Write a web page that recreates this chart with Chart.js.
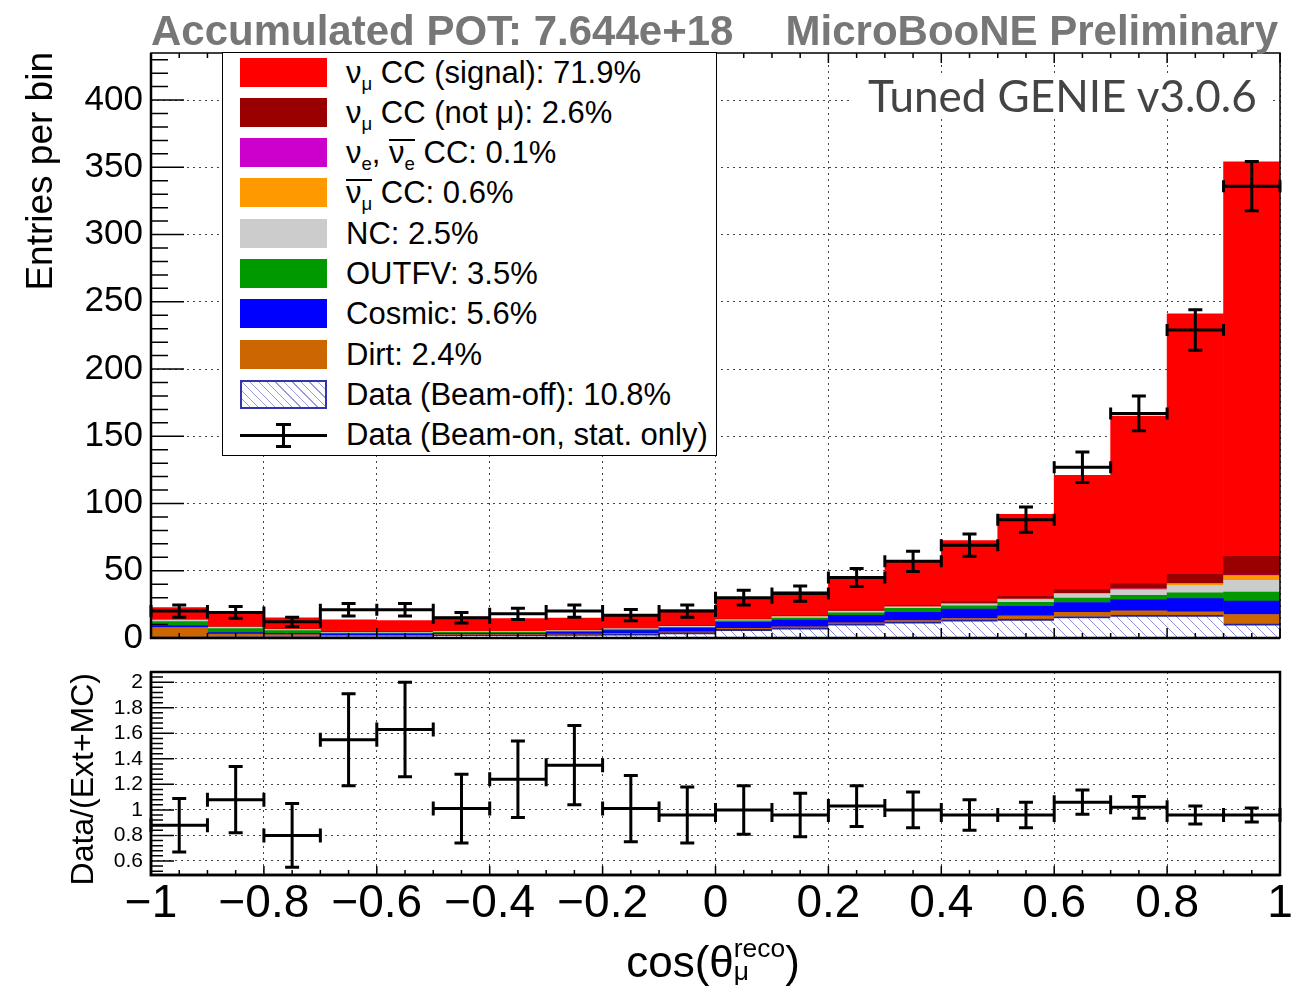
<!DOCTYPE html>
<html>
<head>
<meta charset="utf-8">
<script src="https://cdn.jsdelivr.net/npm/chart.js@4.4.1/dist/chart.umd.min.js"></script>
<style>
  body { margin:0; background:#fff; width:1310px; height:988px; position:relative; overflow:hidden;
         font-family:"Liberation Sans", Arial, sans-serif; color:#000; }
  canvas { position:absolute; left:0; }
  #topChart { top:0; }
  #ratioChart { top:651px; }
  .hdr { position:absolute; top:10px; font-weight:bold; font-size:42px; line-height:42px; color:#777; white-space:nowrap; }
  .ytitle { position:absolute; width:300px; text-align:right; white-space:nowrap; transform:rotate(-90deg); }
  #legend { position:absolute; left:222px; top:52px; width:495px; height:404px; box-sizing:border-box;
            border:1.5px solid #000; background:#fff; }
  .row { position:absolute; left:0; height:40px; width:100%; }
  .sw { position:absolute; left:17px; top:5px; width:87px; height:29px; }
  .txt { position:absolute; left:123px; top:0; line-height:40px; font-size:31px; white-space:nowrap; }
  sub { font-size:0.6em; vertical-align:-0.35em; line-height:0; }
  .ov { display:inline-block; border-top:2px solid #000; line-height:0.8em; }
  #genie { position:absolute; left:850px; top:73px; padding:0 16px 0 18px; background:#fff;
           font-family:Lato, sans-serif; font-size:44px; line-height:44px; color:#444; white-space:nowrap; }
  #xtitle { position:absolute; left:513px; top:937px; width:400px; text-align:center; font-size:44px; line-height:44px; white-space:nowrap; }
  .ss { display:inline-block; vertical-align:-3px; font-size:0.6em; line-height:23px; text-align:left; }
  .ss span { display:block; }
</style>
</head>
<body>
<canvas id="topChart" width="1310" height="667"></canvas>
<canvas id="ratioChart" width="1310" height="337"></canvas>

<div class="hdr" style="left:151px">Accumulated POT: 7.644e+18</div>
<div class="hdr" style="right:32px">MicroBooNE Preliminary</div>

<div class="ytitle" style="left:-110px; top:182px; height:40px; line-height:40px; font-size:37px;">Entries per bin</div>
<div class="ytitle" style="left:-68px; top:806px; height:34px; line-height:34px; font-size:32px;">Data/(Ext+MC)</div>

<div id="genie">Tuned GENIE v3.0.6</div>

<div id="legend">
  <div class="row" style="top:0px"><div class="sw" style="background:#ff0000"></div><div class="txt">ν<sub>μ</sub> CC (signal): 71.9%</div></div>
  <div class="row" style="top:40px"><div class="sw" style="background:#990000"></div><div class="txt">ν<sub>μ</sub> CC (not μ): 2.6%</div></div>
  <div class="row" style="top:80px"><div class="sw" style="background:#cc00cc"></div><div class="txt">ν<sub>e</sub>, <span class="ov">ν<sub>e</sub></span> CC: 0.1%</div></div>
  <div class="row" style="top:120px"><div class="sw" style="background:#ff9900"></div><div class="txt"><span class="ov">ν<sub>μ</sub></span> CC: 0.6%</div></div>
  <div class="row" style="top:161px"><div class="sw" style="background:#cccccc"></div><div class="txt">NC: 2.5%</div></div>
  <div class="row" style="top:201px"><div class="sw" style="background:#009900"></div><div class="txt">OUTFV: 3.5%</div></div>
  <div class="row" style="top:241px"><div class="sw" style="background:#0000ff"></div><div class="txt">Cosmic: 5.6%</div></div>
  <div class="row" style="top:282px"><div class="sw" style="background:#cc6600"></div><div class="txt">Dirt: 2.4%</div></div>
  <div class="row" style="top:322px"><div class="sw" style="box-sizing:border-box; border:2px solid #3333aa;
       background:repeating-linear-gradient(45deg, #fff 0px, #fff 5px, #9999dd 5px, #9999dd 6px)"></div><div class="txt">Data (Beam-off): 10.8%</div></div>
  <div class="row" style="top:362px">
    <div style="position:absolute; left:17px; top:19px; width:87px; height:3px; background:#000"></div>
    <div style="position:absolute; left:59px; top:9px; width:3px; height:23px; background:#000"></div>
    <div style="position:absolute; left:53px; top:8px; width:15px; height:3px; background:#000"></div>
    <div style="position:absolute; left:53px; top:30px; width:15px; height:3px; background:#000"></div>
    <div class="txt">Data (Beam-on, stat. only)</div>
  </div>
</div>

<div id="xtitle">cos(θ<span class="ss"><span>reco</span><span>μ</span></span>)</div>

<script>
// bins in reconstructed cos(theta_mu)
const binEdges = [-1.0, -0.9, -0.8, -0.7, -0.6, -0.5, -0.4, -0.3, -0.2, -0.1, 0.0,
                  0.1, 0.2, 0.3, 0.4, 0.5, 0.6, 0.7, 0.8, 0.9, 1.0];

// stacked prediction, bottom to top
const beamOff   = [0.8, 1.0, 1.0, 1.5, 1.5, 2.0, 2.0, 2.5, 3.0, 4.0, 6.5, 7.5, 10.5, 12.0, 13.5, 14.0, 16.0, 17.0, 17.0, 10.5];
const dirt      = [7.0, 2.0, 1.5, 0.5, 0.5, 0.5, 0.5, 0.5, 0.5, 0.6, 0.7, 0.8, 0.8, 1.0, 1.0, 2.5, 3.0, 3.2, 2.5, 7.0];
const cosmic    = [1.5, 1.0, 1.0, 1.0, 1.0, 1.0, 1.0, 1.2, 2.0, 2.5, 4.5, 5.0, 5.5, 6.0, 7.0, 7.0, 7.4, 8.4, 9.8, 10.0];
const outFV     = [3.0, 3.0, 2.0, 0.7, 0.7, 0.7, 0.7, 0.7, 0.7, 0.8, 1.0, 1.5, 2.0, 3.0, 2.5, 3.0, 3.2, 3.1, 4.2, 6.7];
const nc        = [1.0, 1.0, 0.7, 0.5, 0.5, 0.5, 0.5, 0.5, 0.6, 0.7, 0.8, 1.0, 1.0, 1.0, 1.2, 2.0, 3.0, 3.8, 5.7, 8.6];
const numubarCC = [0.1, 0.1, 0.1, 0.1, 0.1, 0.1, 0.1, 0.1, 0.1, 0.1, 0.1, 0.1, 0.2, 0.2, 0.3, 0.4, 0.6, 0.8, 1.2, 3.7];
const nueCC     = [0, 0, 0, 0, 0, 0, 0, 0, 0, 0, 0, 0, 0, 0.1, 0.1, 0.1, 0.1, 0.2, 0.2, 0.3];
const numuNotMu = [0.3, 0.3, 0.3, 0.2, 0.2, 0.2, 0.2, 0.3, 0.3, 0.3, 0.4, 0.5, 0.8, 1.0, 1.5, 2.0, 2.7, 3.7, 6.7, 14.0];
const numuSignal = [9.0, 9.6, 8.4, 9.0, 8.5, 10.5, 9.5, 9.0, 9.8, 12.0, 16.0, 18.1, 23.2, 32.7, 45.4, 61.0, 85.0, 124.8, 193.7, 293.2];

// beam-on data
const beamOn    = [20, 19, 12, 21, 21, 15, 18, 20, 17, 20, 30, 33, 45, 57, 69, 88, 127, 167, 229, 336];
const beamOnErr = [4.5, 4.4, 3.5, 4.6, 4.6, 3.9, 4.2, 4.5, 4.1, 4.5, 5.5, 5.7, 6.7, 7.5, 8.3, 9.4, 11.3, 12.9, 15.1, 18.3];

// data / (ext + MC)
const ratio    = [0.88, 1.08, 0.80, 1.55, 1.63, 1.01, 1.24, 1.35, 1.01, 0.96, 1.00, 0.96, 1.03, 1.00, 0.96, 0.96, 1.06, 1.02, 0.96, 0.96];
const ratioErr = [0.21, 0.26, 0.25, 0.36, 0.37, 0.27, 0.30, 0.31, 0.26, 0.22, 0.19, 0.17, 0.16, 0.14, 0.12, 0.10, 0.095, 0.085, 0.07, 0.055];

const centers = binEdges.slice(0, -1).map((e, i) => (e + binEdges[i + 1]) / 2);
const halfW = binEdges.slice(0, -1).map((e, i) => (binEdges[i + 1] - e) / 2);
const pts = (vals) => vals.map((v, i) => ({ x: centers[i], y: v }));
const errPts = (vals, errs) => vals.map((v, i) => ({ x: centers[i], y: v, xe: halfW[i], ye: errs[i] }));

function hatch() {
  const c = document.createElement('canvas');
  c.width = 10; c.height = 10;
  const g = c.getContext('2d');
  g.fillStyle = '#fff'; g.fillRect(0, 0, 10, 10);
  g.strokeStyle = '#9090dd'; g.lineWidth = 1;
  g.beginPath();
  g.moveTo(0, 0); g.lineTo(10, 10);
  g.moveTo(-5, 5); g.lineTo(5, 15);
  g.moveTo(5, -5); g.lineTo(15, 5);
  g.stroke();
  return g.createPattern(c, 'repeat');
}

// ROOT style frame with inward ticks
const framePlugin = {
  id: 'frame',
  afterDraw(chart, args, o) {
    const { ctx, chartArea: a, scales: { x, y } } = chart;
    ctx.save();
    ctx.strokeStyle = '#000';
    ctx.lineWidth = o.boxWidth;
    ctx.strokeRect(a.left, a.top, a.right - a.left, a.bottom - a.top);
    ctx.lineWidth = o.axisWidth;
    ctx.beginPath();
    ctx.moveTo(a.left, a.top); ctx.lineTo(a.left, a.bottom); ctx.lineTo(a.right, a.bottom);
    ctx.stroke();

    ctx.lineWidth = 1.5;
    ctx.beginPath();
    const y0 = Math.ceil(y.min / o.yMinor - 1e-6);
    for (let k = y0; k * o.yMinor <= y.max + 1e-9; k++) {
      const v = k * o.yMinor;
      const major = Math.abs(v / o.yMajor - Math.round(v / o.yMajor)) < 1e-6;
      const py = y.getPixelForValue(v);
      ctx.moveTo(a.left, py); ctx.lineTo(a.left + (major ? o.yMajorLen : o.yMinorLen), py);
    }
    const x0 = Math.ceil(x.min / o.xMinor - 1e-6);
    for (let k = x0; k * o.xMinor <= x.max + 1e-9; k++) {
      const v = k * o.xMinor;
      const major = Math.abs(v / o.xMajor - Math.round(v / o.xMajor)) < 1e-6;
      const px = x.getPixelForValue(v);
      const len = major ? o.xMajorLen : o.xMinorLen;
      ctx.moveTo(px, a.bottom); ctx.lineTo(px, a.bottom - len);
      if (o.topTicks) { ctx.moveTo(px, a.top); ctx.lineTo(px, a.top + len); }
    }
    ctx.stroke();
    ctx.restore();
  }
};

// error bars with end caps for datasets flagged errorBars
const errPlugin = {
  id: 'errbars',
  afterDatasetsDraw(chart) {
    const { ctx, scales: { x, y } } = chart;
    chart.data.datasets.forEach(ds => {
      if (!ds.errorBars) return;
      ctx.save();
      ctx.strokeStyle = '#000';
      ctx.lineWidth = 3;
      ctx.beginPath();
      ds.data.forEach(p => {
        const px = x.getPixelForValue(p.x), py = y.getPixelForValue(p.y);
        const xl = x.getPixelForValue(p.x - p.xe), xr = x.getPixelForValue(p.x + p.xe);
        const yt = y.getPixelForValue(p.y + p.ye), yb = y.getPixelForValue(p.y - p.ye);
        const c = ds.capSize;
        ctx.moveTo(xl, py); ctx.lineTo(xr, py);
        ctx.moveTo(px, yt); ctx.lineTo(px, yb);
        ctx.moveTo(px - c, yt); ctx.lineTo(px + c, yt);
        ctx.moveTo(px - c, yb); ctx.lineTo(px + c, yb);
        ctx.moveTo(xl, py - ds.endCap); ctx.lineTo(xl, py + ds.endCap);
        ctx.moveTo(xr, py - ds.endCap); ctx.lineTo(xr, py + ds.endCap);
      });
      ctx.stroke();
      ctx.restore();
    });
  }
};

const FONT = '"Liberation Sans", Arial, sans-serif';
const gridOpts = { color: '#444', lineWidth: 1, drawTicks: false, offset: false };
const dotted = { display: false, dash: [2, 4] };

const bar = (label, vals, color, extra) => Object.assign({
  type: 'bar', label, data: pts(vals), backgroundColor: color, borderWidth: 0,
  barPercentage: 1, categoryPercentage: 1
}, extra || {});

new Chart(document.getElementById('topChart'), {
  type: 'bar',
  data: {
    datasets: [
      bar('Data (Beam-off)', beamOff, hatch(), { borderColor: '#22229a', borderWidth: { top: 2, left: 0, right: 0, bottom: 0 } }),
      bar('Dirt', dirt, '#cc6600'),
      bar('Cosmic', cosmic, '#0000ff'),
      bar('OUTFV', outFV, '#009900'),
      bar('NC', nc, '#cccccc'),
      bar('numubar CC', numubarCC, '#ff9900'),
      bar('nue CC', nueCC, '#cc00cc'),
      bar('numu CC (not mu)', numuNotMu, '#990000'),
      bar('numu CC (signal)', numuSignal, '#ff0000'),
      { type: 'scatter', label: 'Data (Beam-on)', data: errPts(beamOn, beamOnErr), pointRadius: 0,
        errorBars: true, capSize: 7, endCap: 6 }
    ]
  },
  options: {
    responsive: false, animation: false, events: [],
    layout: { padding: { left: 0, top: 53, right: 30, bottom: 0 } },
    plugins: {
      legend: { display: false }, tooltip: { enabled: false },
      frame: { boxWidth: 1.5, axisWidth: 2.5, yMajor: 50, yMinor: 10, yMajorLen: 33, yMinorLen: 17,
               xMajor: 0.2, xMinor: 0.05, xMajorLen: 10, xMinorLen: 5, topTicks: true }
    },
    scales: {
      x: { type: 'linear', stacked: true, offset: false, min: -1, max: 1,
           ticks: { display: false, stepSize: 0.2 }, grid: gridOpts, border: dotted,
           afterFit: s => { s.height = 29; } },
      y: { stacked: true, min: 0, max: 435,
           ticks: { stepSize: 50, includeBounds: false, padding: 8, color: '#000', font: { family: FONT, size: 35 } },
           grid: gridOpts, border: dotted,
           afterFit: s => { s.width = 151; } }
    }
  },
  plugins: [framePlugin, errPlugin]
});

new Chart(document.getElementById('ratioChart'), {
  type: 'scatter',
  data: {
    datasets: [
      { label: 'Data/(Ext+MC)', data: errPts(ratio, ratioErr), pointRadius: 0,
        errorBars: true, capSize: 7, endCap: 7 }
    ]
  },
  options: {
    responsive: false, animation: false, events: [],
    layout: { padding: { left: 0, top: 21, right: 30, bottom: 0 } },
    plugins: {
      legend: { display: false }, tooltip: { enabled: false },
      frame: { boxWidth: 2.5, axisWidth: 2.5, yMajor: 0.2, yMinor: 0.04, yMajorLen: 23, yMinorLen: 12,
               xMajor: 0.2, xMinor: 0.05, xMajorLen: 9, xMinorLen: 5, topTicks: false }
    },
    scales: {
      x: { type: 'linear', min: -1, max: 1,
           ticks: { stepSize: 0.2, padding: 2, color: '#000', maxRotation: 0, autoSkip: false,
                    font: { family: FONT, size: 46 },
                    callback: v => (v < -1e-9 ? '\u2212' : '') + Math.abs(Math.round(v * 10) / 10) },
           grid: gridOpts, border: dotted,
           afterFit: s => { s.height = 113; } },
      y: { min: 0.49, max: 2.08,
           ticks: { stepSize: 0.2, includeBounds: false, autoSkip: false, padding: 8, color: '#000',
                    font: { family: FONT, size: 21 },
                    callback: v => String(Math.round(v * 10) / 10) },
           grid: gridOpts, border: dotted,
           afterFit: s => { s.width = 151; } }
    }
  },
  plugins: [framePlugin, errPlugin]
});
</script>
</body>
</html>
